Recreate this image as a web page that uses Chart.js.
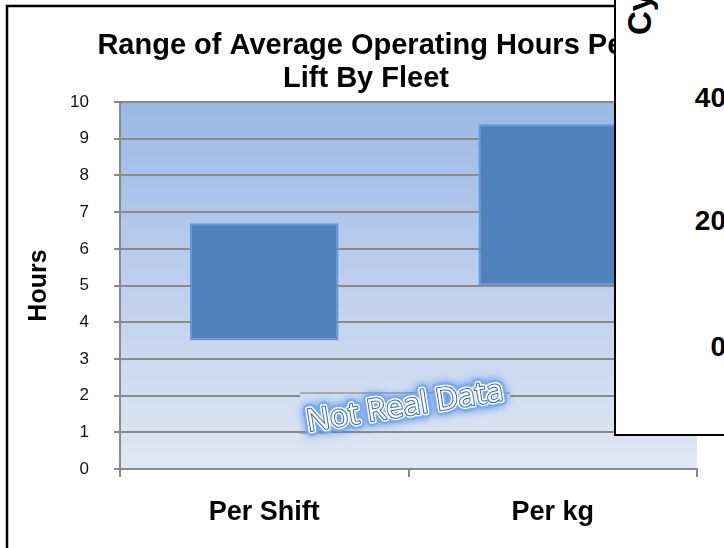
<!DOCTYPE html>
<html>
<head>
<meta charset="utf-8">
<script src="https://cdn.jsdelivr.net/npm/chart.js@4/dist/chart.umd.min.js"></script>
<style>
  html, body { margin: 0; padding: 0; background: #fff; }
  body { width: 724px; height: 548px; overflow: hidden; position: relative; }
  #wrap { position: absolute; left: 0; top: 0; width: 732px; height: 548px; }
  .panel { position: absolute; left: 614px; top: -10px; width: 200px; height: 446px;
           box-sizing: border-box; border: 2.5px solid #000; background: #fff; z-index: 2; }
  .ovl { position: absolute; z-index: 3; font-family: "Liberation Sans", Arial, sans-serif;
         font-weight: bold; color: #000; white-space: nowrap; }
  .ovl.tick { left: 626px; width: 100px; text-align: right; font-size: 28px; line-height: 28px; }
  .ovl.rot { left: 623px; top: 35px; font-size: 33px; line-height: 33px;
             transform-origin: 0 0; transform: rotate(-90deg); }
</style>
</head>
<body>
<div id="wrap"><canvas id="chart" width="732" height="548"></canvas></div>
<div class="panel"></div>
<div class="ovl rot">Cycles</div>
<div id="ticks"></div>
<script>
const categories = ['Per Shift', 'Per kg'];
const lowHours = [3.5, 5.0];
const highHours = [6.7, 9.4];
const overlayTicks = ['40', '20', '0'];
const overlayTickY = [98, 221, 347];

// ticks of the chart lying on top
const tickBox = document.getElementById('ticks');
overlayTicks.forEach((t, i) => {
  const d = document.createElement('div');
  d.className = 'ovl tick';
  d.style.top = (overlayTickY[i] - 14) + 'px';
  d.textContent = t;
  tickBox.appendChild(d);
});

const FONT = '"Liberation Sans", Arial, sans-serif';
const GRID = '#8a8a8a';

function plotGradient(ctx, area) {
  const g = ctx.createLinearGradient(0, area.top, 0, area.bottom);
  g.addColorStop(0, '#9bb8e5');
  g.addColorStop(1, '#e0e7f4');
  return g;
}

const decor = {
  id: 'decor',
  beforeDraw(chart) {
    const { ctx, chartArea } = chart;
    ctx.save();
    ctx.fillStyle = '#fff';
    ctx.fillRect(0, 0, chart.width, chart.height);
    ctx.strokeStyle = '#000';
    ctx.lineWidth = 2.5;
    ctx.strokeRect(7, 6, 800, 600);
    ctx.fillStyle = plotGradient(ctx, chartArea);
    ctx.fillRect(chartArea.left, chartArea.top, chartArea.right - chartArea.left, chartArea.bottom - chartArea.top);
    ctx.restore();
  },
  afterDatasetsDraw(chart) {
    const { ctx, chartArea } = chart;
    ctx.save();
    // text box of the watermark
    ctx.fillStyle = plotGradient(ctx, chartArea);
    ctx.fillRect(300, 393, 210, 37);
    ctx.strokeStyle = '#9a9a9a';
    ctx.lineWidth = 1.5;
    ctx.beginPath();
    ctx.moveTo(300, 393); ctx.lineTo(510, 393);
    ctx.moveTo(300, 433); ctx.lineTo(326, 433);
    ctx.stroke();

    ctx.translate(405, 407);
    ctx.rotate(-0.16);
    ctx.font = '31px "Open Sans", sans-serif';
    ctx.textAlign = 'center';
    ctx.textBaseline = 'middle';
    ctx.lineJoin = 'round';
    const txt = 'Not Real Data';
    ctx.shadowColor = 'rgba(70,140,235,0.95)';
    ctx.shadowBlur = 9;
    ctx.strokeStyle = 'rgba(120,170,240,0.9)';
    ctx.lineWidth = 10;
    ctx.strokeText(txt, 0, 0);
    ctx.shadowBlur = 0;
    ctx.shadowColor = 'transparent';
    ctx.strokeStyle = '#ffffff';
    ctx.lineWidth = 5;
    ctx.strokeText(txt, 0, 0);
    ctx.strokeStyle = '#2f64ad';
    ctx.lineWidth = 2;
    ctx.strokeText(txt, 0, 0);
    ctx.fillStyle = '#ffffff';
    ctx.fillText(txt, 0, 0);
    ctx.restore();
  }
};

new Chart(document.getElementById('chart'), {
  type: 'bar',
  data: {
    labels: categories,
    datasets: [{
      label: 'Hours',
      data: categories.map((c, i) => [lowHours[i], highHours[i]]),
      backgroundColor: '#4f81bd',
      borderColor: '#6497dd',
      borderWidth: 2,
      borderSkipped: false,
      barPercentage: 0.515,
      categoryPercentage: 1
    }]
  },
  options: {
    responsive: false,
    animation: false,
    layout: { padding: { left: 0, right: 0, top: 0, bottom: 0 } },
    plugins: {
      legend: { display: false },
      tooltip: { enabled: false },
      title: {
        display: true,
        text: ['Range of Average Operating Hours Per', 'Lift By Fleet'],
        color: '#000',
        font: { family: FONT, size: 29, weight: 'bold', lineHeight: 1.14 },
        padding: { top: 29, bottom: 7 }
      }
    },
    scales: {
      x: {
        offset: true,
        grid: { drawOnChartArea: false, drawTicks: true, tickLength: 8, offset: true, color: GRID, lineWidth: 2 },
        border: { display: true, color: GRID, width: 2 },
        ticks: { color: '#000', font: { family: FONT, size: 27, weight: 'bold' }, padding: 19 },
        afterFit: s => { s.height = 79; }
      },
      y: {
        min: 0,
        max: 10,
        ticks: { stepSize: 1, color: '#111', font: { family: FONT, size: 17 }, padding: 25 },
        grid: { color: GRID, lineWidth: 2, tickLength: 6 },
        border: { display: true, color: GRID, width: 2 },
        title: {
          display: true,
          text: 'Hours',
          color: '#000',
          font: { family: FONT, size: 25, weight: 'bold' },
          padding: { top: 24, bottom: 0 }
        },
        afterFit: s => { s.width = 120; }
      },
      y2: {
        position: 'right',
        display: true,
        grid: { display: false },
        border: { display: false },
        ticks: { display: false },
        afterFit: s => { s.width = 35; }
      }
    }
  },
  plugins: [decor]
});
</script>
</body>
</html>
